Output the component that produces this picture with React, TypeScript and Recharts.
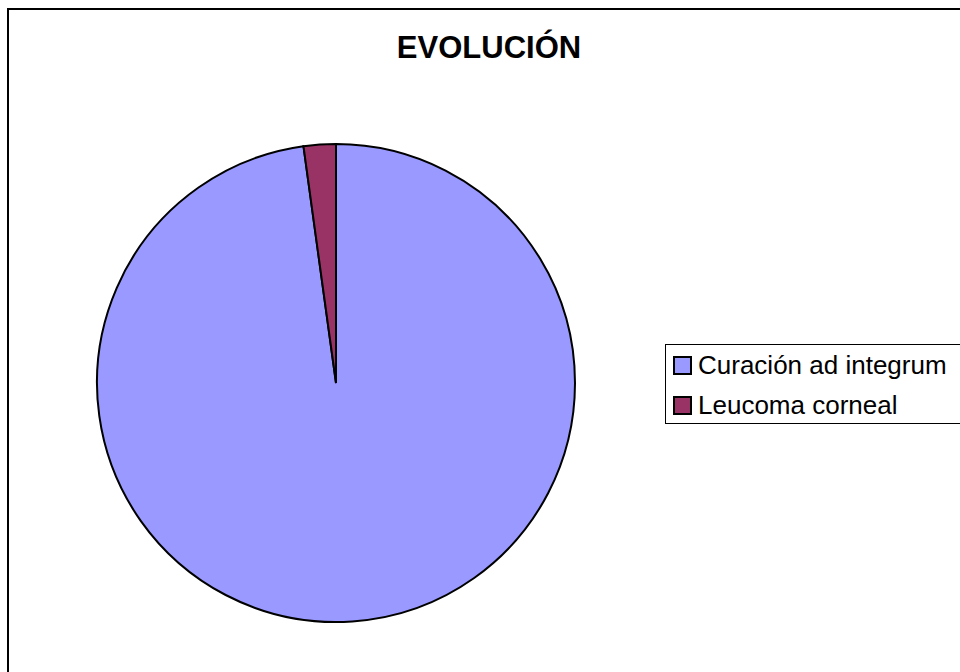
import { Cell, Legend, Pie, PieChart } from "recharts";

const categories = ["Curación ad integrum", "Leucoma corneal"];
const values = [45, 1];
const colors = ["#9999FF", "#993366"];

const data = categories.map((name, i) => ({ name, value: values[i] }));

const FONT = "Arial, 'Liberation Sans', sans-serif";

const BoxLegend = (props: any) => {
  const { payload } = props;
  return (
    <div
      style={{
        border: "1px solid #000",
        background: "#fff",
        width: 320,
        height: 80,
        boxSizing: "border-box",
        padding: "3px 0 0 7px",
        fontFamily: FONT,
        fontSize: 26,
        color: "#000",
      }}
    >
      {(payload || []).map((p: any) => (
        <div
          key={p.value}
          style={{ display: "flex", alignItems: "center", height: 34, marginBottom: 6 }}
        >
          <span
            style={{
              display: "inline-block",
              width: 15,
              height: 15,
              border: "2px solid #000",
              background: p.color,
              marginRight: 6,
            }}
          />
          <span style={{ lineHeight: "34px" }}>{p.value}</span>
        </div>
      ))}
    </div>
  );
};

export default function App() {
  return (
    <div
      style={{
        position: "absolute",
        left: 0,
        top: 0,
        width: 960,
        height: 672,
        overflow: "hidden",
        background: "#fff",
      }}
    >
      {/* chart frame, cut off at right and bottom */}
      <div
        style={{
          position: "absolute",
          left: 7,
          top: 8,
          width: 1000,
          height: 720,
          border: "2px solid #000",
          boxSizing: "border-box",
        }}
      />
      <div
        style={{
          position: "absolute",
          left: 0,
          top: 30,
          width: 978,
          textAlign: "center",
          fontFamily: FONT,
          fontWeight: "bold",
          fontSize: 31,
          lineHeight: "36px",
          color: "#000",
        }}
      >
        EVOLUCIÓN
      </div>
      <div style={{ position: "absolute", left: 0, top: 0 }}>
        <PieChart
          width={960}
          height={672}
          margin={{ top: 0, right: 0, bottom: 0, left: 0 }}
        >
          <Pie
            data={data}
            dataKey="value"
            nameKey="name"
            cx={336}
            cy={383}
            outerRadius={239}
            startAngle={90}
            endAngle={-270}
            stroke="#000"
            strokeWidth={2}
            isAnimationActive={false}
          >
            {data.map((d, i) => (
              <Cell key={d.name} fill={colors[i]} />
            ))}
          </Pie>
          <Legend
            layout="vertical"
            content={<BoxLegend />}
            wrapperStyle={{ left: 665, top: 344, width: 320 }}
          />
        </PieChart>
      </div>
    </div>
  );
}
